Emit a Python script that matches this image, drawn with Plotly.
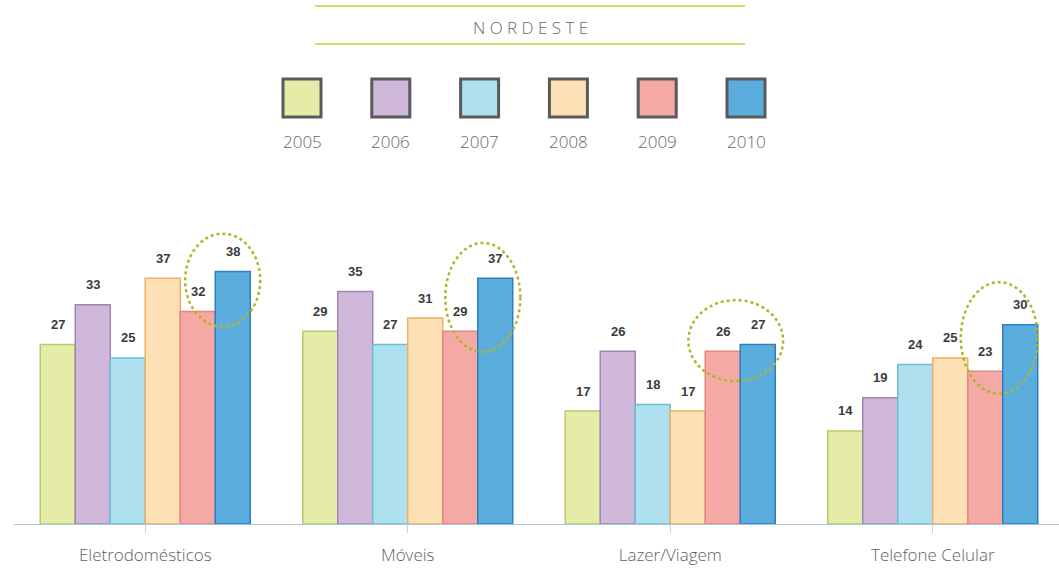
import plotly.graph_objects as go

categories = ["Eletrodomésticos", "Móveis", "Lazer/Viagem", "Telefone Celular"]
years = ["2005", "2006", "2007", "2008", "2009", "2010"]
v2005 = [27, 29, 17, 14]
v2006 = [33, 35, 26, 19]
v2007 = [25, 27, 18, 24]
v2008 = [37, 31, 17, 25]
v2009 = [32, 29, 26, 23]
v2010 = [38, 37, 27, 30]
series = [v2005, v2006, v2007, v2008, v2009, v2010]
title_text = "NORDESTE"

colors = ["#e4eca8", "#cfb8d9", "#aee0ef", "#fde1b5", "#f5a9a4", "#5badde"]
edges = ["#b9c96a", "#9f86b5", "#6fbdd6", "#f0b060", "#e58580", "#2f7fc0"]

OFF = 0  # body margin removed via post_script
W, H = 1059, 569
ML, MR, MT, MB = 14, 0, 225, 45
PW = W - ML - MR
PH = H - MT - MB
YMAX = 45
LIGHT = "Open Sans"


def px_x(px):
    return (px - OFF - ML) / PW


def px_y(py):
    return (H - MB - (py - OFF)) / PH


fig = go.Figure()
for i, (yr, vals) in enumerate(zip(years, series)):
    fig.add_trace(go.Bar(
        x=list(range(len(categories))), y=vals, name=yr,
        marker=dict(color=colors[i], line=dict(color=edges[i], width=1.5)),
        showlegend=False, hoverinfo="skip",
    ))

# value labels
nser = len(series)
bw = 0.8 / nser
annotations = []
for i, vals in enumerate(series):
    for c, v in enumerate(vals):
        annotations.append(dict(
            x=c + (i - (nser - 1) / 2) * bw, y=v, xref="x", yref="y",
            text=f"<b>{v}</b>", showarrow=False, yshift=20,
            font=dict(family="Liberation Sans, Arial", size=13, color="#3b3b3b"),
        ))

shapes = []
# dotted ellipses highlighting recent years
ellipses = [
    (0.152, 0.438, 29.7, 43.7),
    (1.143, 1.429, 25.9, 42.3),
    (2.069, 2.430, 21.5, 33.7),
    (3.107, 3.400, 19.6, 36.4),
]
for x0, x1, y0, y1 in ellipses:
    shapes.append(dict(type="circle", xref="x", yref="y", x0=x0, x1=x1, y0=y0, y1=y1,
                       line=dict(color="#b3b528", width=2.5, dash="dot"), layer="above"))

# title lines
for ly in (6, 44):
    shapes.append(dict(type="line", xref="paper", yref="paper",
                       x0=px_x(315), x1=px_x(745), y0=px_y(ly), y1=px_y(ly),
                       line=dict(color="#c5cc3a", width=1.5)))
annotations.append(dict(
    x=px_x(530), y=px_y(27), xref="paper", yref="paper", showarrow=False,
    xanchor="center", yanchor="middle",
    text=" ".join(title_text),
    font=dict(family=LIGHT, size=17, color="#6a6a6a", weight=300),
))

# custom legend
for i, yr in enumerate(years):
    cx = 302 + i * 88.8
    shapes.append(dict(type="rect", xref="paper", yref="paper",
                       x0=px_x(cx - 19), x1=px_x(cx + 19), y0=px_y(117), y1=px_y(79),
                       fillcolor=colors[i], line=dict(color="#5a5a5a", width=3)))
    annotations.append(dict(
        x=px_x(cx), y=px_y(141), xref="paper", yref="paper", showarrow=False,
        xanchor="center", yanchor="middle",
        text=yr, font=dict(family=LIGHT, size=17, color="#666666", weight=300),
    ))

fig.update_layout(
    width=W, height=H,
    margin=dict(l=ML, r=MR, t=MT, b=MB),
    paper_bgcolor="white", plot_bgcolor="white",
    barmode="group", bargap=0.2, bargroupgap=0,
    annotations=annotations, shapes=shapes,
    xaxis=dict(
        tickmode="array", tickvals=list(range(len(categories))), ticktext=categories,
        range=[-0.5, 3.481], showline=True, linecolor="#a9c6d8", linewidth=1,
        ticks="outside", tickson="boundaries", ticklen=8, tickcolor="#c9d4dc",
        ticklabelstandoff=8,
        showgrid=False, zeroline=False,
        tickfont=dict(family=LIGHT, size=17, color="#5f5f5f", weight=300),
    ),
    yaxis=dict(range=[0, YMAX], visible=False, showgrid=False, zeroline=False),
)

fig.write_html("out.html", config={"displayModeBar": False},
               post_script="document.body.style.margin='0px';")
